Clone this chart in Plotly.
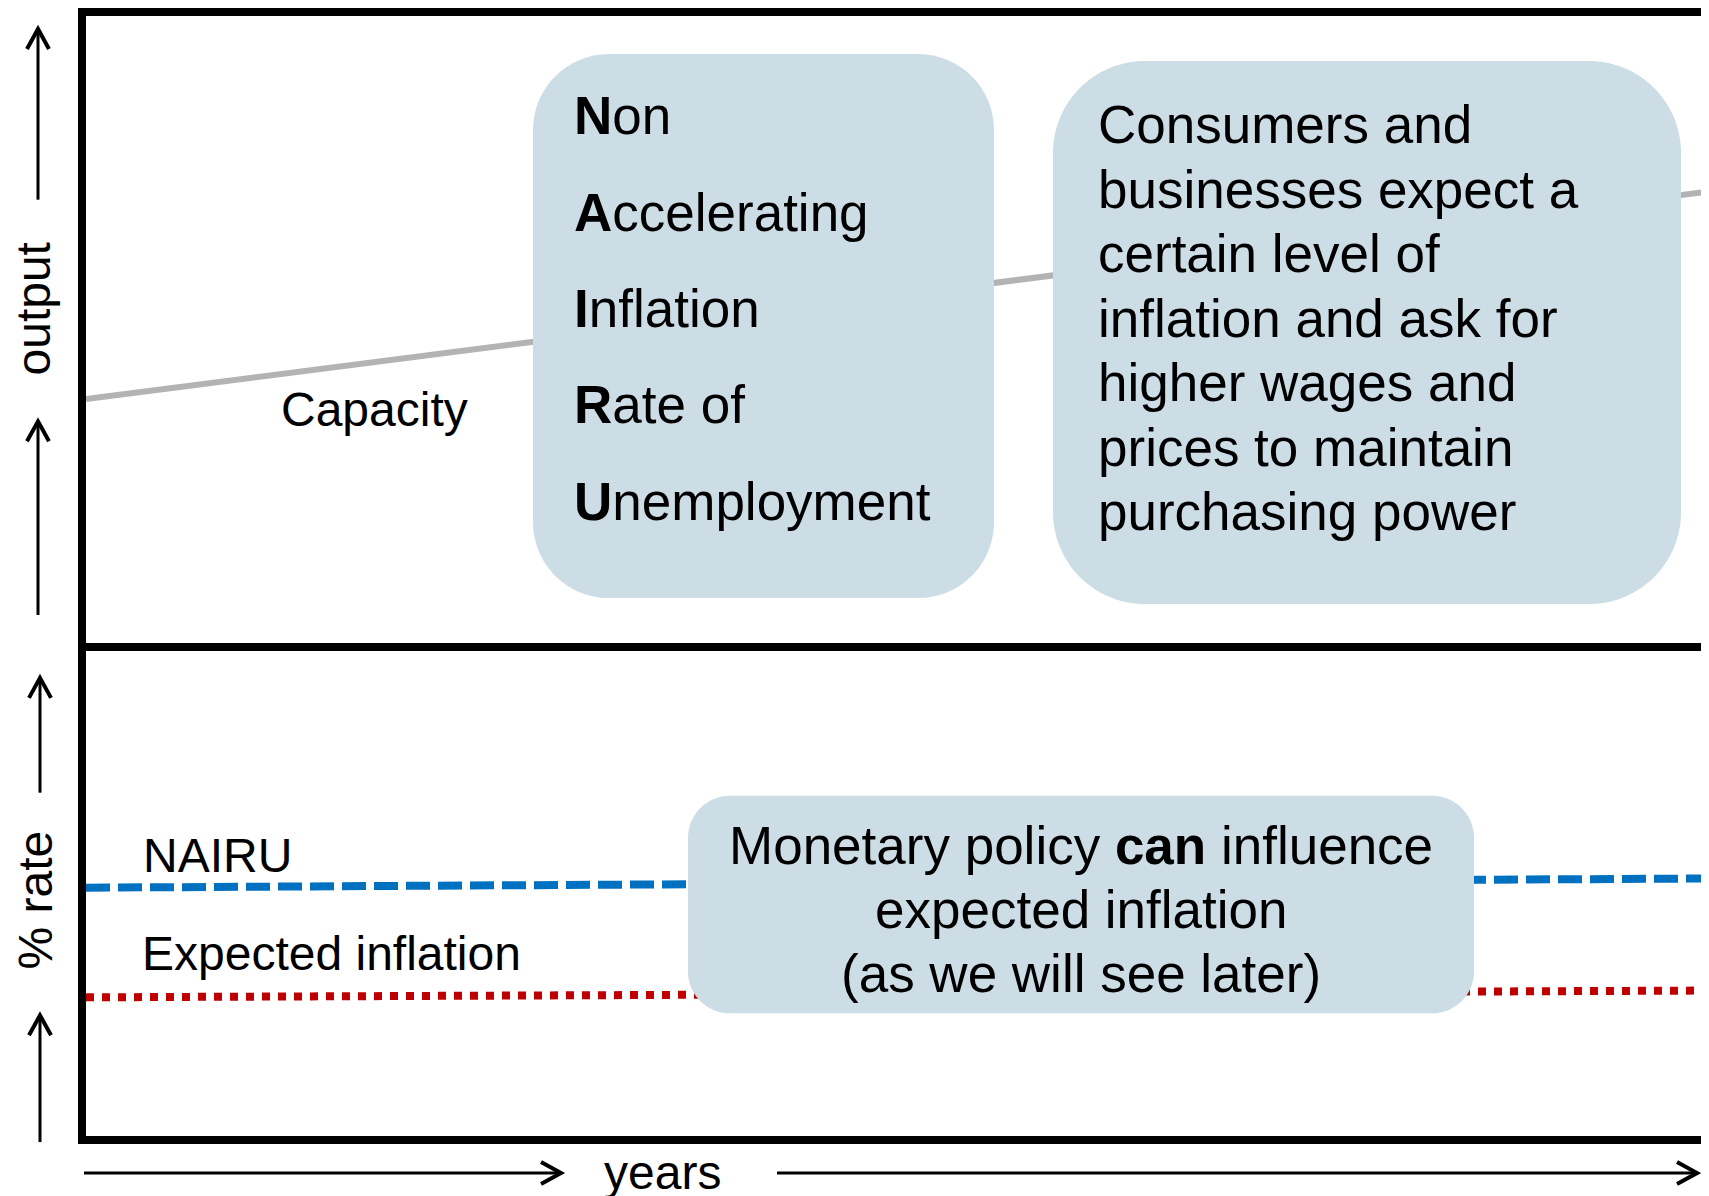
import plotly.graph_objects as go

# Page is 1709x1196; the browser body adds an 8px margin, so the figure is
# 8px smaller and all layout positions below are given in page pixels.
PAGE_W, PAGE_H = 1709, 1196
OFF = 8
W, H = PAGE_W - OFF, PAGE_H - OFF

# ---- data ----
years = [0, 10]
capacity = [38.9, 72.0]            # output (top panel), arbitrary units
nairu = [5.12, 5.31]               # % rate (bottom panel)
expected_inflation = [2.86, 3.00]  # % rate (bottom panel)

nar_letters = ["N", "A", "I", "R", "U"]
nar_rest = ["on", "ccelerating", "nflation", "ate of", "nemployment"]
consumers_lines = ["Consumers and", "businesses expect a", "certain level of",
                   "inflation and ask for", "higher wages and",
                   "prices to maintain", "purchasing power"]
monetary_lines = ["Monetary policy <b>can</b> influence", "expected inflation",
                  "(as we will see later)"]

FONT = "Liberation Sans, Arial, sans-serif"
BOX = "#cddde6"


def X(p):
    return (p - OFF) / W


def Y(p):
    return 1 - (p - OFF) / H


def rounded_rect(x0, y0, x1, y1, r):
    k = 0.5523 * r
    pts = [
        ("M", [(x0 + r, y0)]),
        ("L", [(x1 - r, y0)]),
        ("C", [(x1 - r + k, y0), (x1, y0 + r - k), (x1, y0 + r)]),
        ("L", [(x1, y1 - r)]),
        ("C", [(x1, y1 - r + k), (x1 - r + k, y1), (x1 - r, y1)]),
        ("L", [(x0 + r, y1)]),
        ("C", [(x0 + r - k, y1), (x0, y1 - r + k), (x0, y1 - r)]),
        ("L", [(x0, y0 + r)]),
        ("C", [(x0, y0 + r - k), (x0 + r - k, y0), (x0 + r, y0)]),
    ]
    s = ""
    for cmd, ps in pts:
        s += cmd + " ".join(f"{X(a):.5f},{Y(b):.5f}" for a, b in ps) + " "
    return s + "Z"


fig = go.Figure()
fig.add_trace(go.Scatter(x=years, y=capacity, mode="lines", xaxis="x", yaxis="y",
                         line=dict(color="#b3b3b3", width=6), hoverinfo="skip"))
fig.add_trace(go.Scatter(x=years, y=nairu, mode="lines", xaxis="x2", yaxis="y2",
                         line=dict(color="#0070c0", width=8, dash="24px,8px"),
                         hoverinfo="skip"))
fig.add_trace(go.Scatter(x=years, y=expected_inflation, mode="lines", xaxis="x2",
                         yaxis="y2",
                         line=dict(color="#c00000", width=8, dash="8px,8px"),
                         hoverinfo="skip"))

shapes = []
# boxes
for (x0, y0, x1, y1, r) in [(533, 52, 994, 597, 76), (1053, 59, 1681, 603, 92),
                            (688, 795, 1474, 1013, 42)]:
    shapes.append(dict(type="path", xref="paper", yref="paper",
                       path=rounded_rect(x0, y0, x1, y1, r),
                       fillcolor=BOX, line=dict(width=0), layer="above"))


def arrow(xs, ys, xt, yt):
    shapes.append(dict(type="line", xref="paper", yref="paper",
                       x0=X(xs), y0=Y(ys), x1=X(xt), y1=Y(yt),
                       line=dict(color="black", width=3)))
    if xs == xt:  # vertical, pointing up
        p = f"M{X(xt-11):.5f},{Y(yt+20):.5f} L{X(xt):.5f},{Y(yt):.5f} L{X(xt+11):.5f},{Y(yt+20):.5f}"
    else:  # horizontal, pointing right
        p = f"M{X(xt-20):.5f},{Y(yt-11):.5f} L{X(xt):.5f},{Y(yt):.5f} L{X(xt-20):.5f},{Y(yt+11):.5f}"
    shapes.append(dict(type="path", xref="paper", yref="paper", path=p,
                       fillcolor="rgba(0,0,0,0)",
                       line=dict(color="black", width=4)))


arrow(38, 198, 38, 27)
arrow(38, 614, 38, 420)
arrow(40, 792, 40, 677)
arrow(40, 1142, 40, 1015)
arrow(84, 1173, 561, 1173)
arrow(777, 1173, 1697, 1173)

ann = []


def text(t, x, y, size, xanchor="left", angle=0):
    ann.append(dict(text=t, x=X(x), y=Y(y), xref="paper", yref="paper",
                    showarrow=False, xanchor=xanchor, yanchor="middle",
                    textangle=angle,
                    font=dict(family=FONT, size=size, color="black")))


# NAIRU acronym box
for i, (a, b) in enumerate(zip(nar_letters, nar_rest)):
    text(f"<b>{a}</b>{b}", 572, 114 + i * 96.5, 53)
# consumers box
for i, t in enumerate(consumers_lines):
    text(t, 1096, 123 + i * 64.6, 53)
# monetary box
for i, t in enumerate(monetary_lines):
    text(t, 1081, 845 + i * 64, 53, xanchor="center")

text("Capacity", 374, 408, 48, xanchor="center")
text("NAIRU", 141, 855, 48)
text("Expected inflation", 140, 953, 48)
text("output", 33, 308, 48, xanchor="center", angle=-90)
text("% rate", 35, 900, 48, xanchor="center", angle=-90)
text("years", 662, 1172, 48, xanchor="center")

axis_common = dict(showline=True, linewidth=8, linecolor="black", showgrid=False,
                   zeroline=False, showticklabels=False, ticks="", fixedrange=True)

fig.update_layout(
    width=W, height=H, margin=dict(l=0, r=0, t=0, b=0),
    paper_bgcolor="white", plot_bgcolor="white", showlegend=False,
    xaxis=dict(domain=[X(86), 1], range=[0, 10], anchor="y", mirror=True, **axis_common),
    xaxis2=dict(domain=[X(86), 1], range=[0, 10], anchor="y2", mirror=True,
                matches="x", **axis_common),
    yaxis=dict(domain=[Y(642), Y(14)], range=[0, 100], anchor="x", **axis_common),
    yaxis2=dict(domain=[Y(1136), Y(650)], range=[0, 10], anchor="x2", **axis_common),
    shapes=shapes, annotations=ann,
)

fig.write_html("out.html")
